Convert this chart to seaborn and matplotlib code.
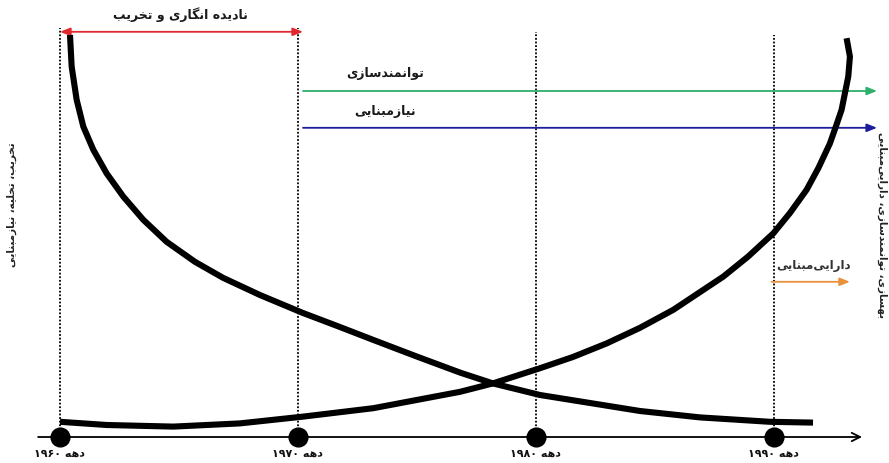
import re
import matplotlib
matplotlib.use("Agg")
import matplotlib.pyplot as plt
import seaborn as sns

# ---------------- data ----------------
decades = [1960, 1970, 1980, 1990]
decade_labels = ["دهه ۱۹۶۰", "دهه ۱۹۷۰", "دهه ۱۹۸۰", "دهه ۱۹۹۰"]

# falling curve
fall_x = [1960.42, 1960.49, 1960.70, 1960.98, 1961.40, 1961.96, 1962.66,
          1963.50, 1964.48, 1965.67, 1966.85, 1968.40, 1970.21, 1971.76,
          1973.15, 1975.00, 1976.81, 1978.19, 1980.17, 1982.27, 1984.37,
          1986.89, 1989.83, 1991.64]
fall_y = [100.5, 92.6, 84.3, 77.6, 71.8, 65.9, 60.1, 54.3, 48.8, 43.8, 39.8,
          35.5, 31.0, 27.5, 24.3, 20.1, 16.1, 13.4, 10.5, 8.5, 6.5, 4.9, 3.8,
          3.6]

# rising curve
rise_x = [1960.00, 1961.96, 1964.76, 1967.56, 1970.22, 1973.16, 1976.81,
          1978.19, 1980.17, 1981.55, 1982.97, 1984.37, 1985.77, 1987.87,
          1988.91, 1989.97, 1990.67, 1991.37, 1991.87, 1992.35, 1992.61,
          1992.84, 1993.12, 1993.19, 1993.05]
rise_y = [3.8, 3.0, 2.6, 3.4, 5.1, 7.2, 11.3, 13.4, 17.2, 20.0, 23.4, 27.3,
          31.8, 40.1, 45.1, 50.9, 56.0, 61.8, 67.3, 73.4, 77.8, 81.8, 90.1,
          95.1, 99.7]

vline_tops = [102.3, 102.3, 101.3, 100.5]

phase_labels = ["نادیده انگاری و تخریب", "توانمندسازی", "نیازمبنایی", "دارایی‌مبنایی"]
phase_start = [1960, 1970.21, 1970.21, 1989.9]
phase_end = [1970.21, 1994.33, 1994.33, 1993.19]
phase_level = [101.3, 86.5, 77.3, 38.8]
phase_colors = ["#e0282e", "#2eaf6a", "#1c1c9e", "#e8903c"]

left_label = "تخریب، تخلیه، نیازمبنایی"
right_label = "بهسازی، توانمندسازی، دارایی‌مبنایی"

# ---------------- minimal Persian shaping ----------------
FORMS = {  # isolated, final, initial, medial
    'ا': ('\uFE8D', '\uFE8E', None, None),
    'ب': ('\uFE8F', '\uFE90', '\uFE91', '\uFE92'),
    'ت': ('\uFE95', '\uFE96', '\uFE97', '\uFE98'),
    'خ': ('\uFEA5', '\uFEA6', '\uFEA7', '\uFEA8'),
    'د': ('\uFEA9', '\uFEAA', None, None),
    'ر': ('\uFEAD', '\uFEAE', None, None),
    'ز': ('\uFEAF', '\uFEB0', None, None),
    'س': ('\uFEB1', '\uFEB2', '\uFEB3', '\uFEB4'),
    'ش': ('\uFEB5', '\uFEB6', '\uFEB7', '\uFEB8'),
    'ک': ('\uFB8E', '\uFB8F', '\uFB90', '\uFB91'),
    'گ': ('\uFB92', '\uFB93', '\uFB94', '\uFB95'),
    'ل': ('\uFEDD', '\uFEDE', '\uFEDF', '\uFEE0'),
    'م': ('\uFEE1', '\uFEE2', '\uFEE3', '\uFEE4'),
    'ن': ('\uFEE5', '\uFEE6', '\uFEE7', '\uFEE8'),
    'ه': ('\uFEE9', '\uFEEA', '\uFEEB', '\uFEEC'),
    'و': ('\uFEED', '\uFEEE', None, None),
    'ی': ('\uFBFC', '\uFBFD', '\uFBFE', '\uFBFF'),
}


def shape(s):
    out = []
    n = len(s)
    for i, c in enumerate(s):
        if c == '\u200c':
            continue
        if c not in FORMS:
            out.append(c)
            continue
        prev = s[i - 1] if i > 0 else ''
        nxt = s[i + 1] if i + 1 < n else ''
        jp = prev in FORMS and FORMS[prev][2] is not None
        jn = nxt in FORMS and FORMS[c][2] is not None
        f = FORMS[c]
        if jp and jn:
            out.append(f[3])
        elif jp:
            out.append(f[1])
        elif jn:
            out.append(f[2])
        else:
            out.append(f[0])
    return ''.join(out)


def fa(s):
    shaped = shape(s)
    runs = re.findall(r'[0-9\u06F0-\u06F9]+|[^0-9\u06F0-\u06F9]+', shaped)
    vis = []
    for r in reversed(runs):
        if re.match(r'[0-9\u06F0-\u06F9]', r):
            vis.append(r)
        else:
            vis.append(r[::-1])
    return ''.join(vis)


# ---------------- figure ----------------
sns.set_theme(style="white")
plt.rcParams['font.family'] = ['DejaVu Sans']

fig = plt.figure(figsize=(8.89, 4.63), dpi=100)
ax = fig.add_axes([0, 0, 1, 1])
ax.set_xlim(1957.479, 1994.832)
ax.set_ylim(-6.5, 109.25)
ax.axis("off")

# dotted decade guides
ax.vlines(decades, 0, vline_tops, colors="black", linestyles=(0, (1, 1)), lw=1.3, zorder=1)

# main axis with arrow
ax.annotate("", xy=(1993.70, 0), xytext=(1959.08, 0),
            arrowprops=dict(arrowstyle="->,head_length=0.5,head_width=0.25",
                            color="black", lw=1.3, shrinkA=0, shrinkB=0), zorder=2)

# curves
for cx, cy in ((fall_x, fall_y), (rise_x, rise_y)):
    sns.lineplot(x=cx, y=cy, sort=False, estimator=None, color="black",
                 lw=4.4, ax=ax, solid_capstyle="butt", solid_joinstyle="round",
                 zorder=3)

# decade dots
sns.scatterplot(x=decades, y=[0] * len(decades), s=180, color="black",
                edgecolor="black", ax=ax, zorder=4)

# phase arrows
for i, (x0, x1, lv, col) in enumerate(zip(phase_start, phase_end,
                                           phase_level, phase_colors)):
    style = ("<|-|>,head_length=0.5,head_width=0.2" if i == 0
             else "-|>,head_length=0.5,head_width=0.2")
    ax.annotate("", xy=(x1, lv), xytext=(x0, lv),
                arrowprops=dict(arrowstyle=style, color=col, lw=1.3,
                                shrinkA=0, shrinkB=0), zorder=2)

label_pos = [(1965.08, 105.5), (1973.66, 91.0), (1973.66, 81.3), (1991.64, 43.0)]
label_size = [9, 9, 9, 8.5]
label_color = ["#1a1a1a", "#1a1a1a", "#1a1a1a", "#333333"]
for lab, (tx, ty), fs, tc in zip(phase_labels, label_pos, label_size, label_color):
    ax.text(tx, ty, fa(lab), ha="center", va="center", fontsize=fs,
            fontweight="bold", color=tc)

# decade labels
for d, lab in zip(decades, decade_labels):
    ax.text(d, -4.1, fa(lab), ha="center", va="center", fontsize=8,
            fontweight="bold", color="#111111")

# side labels
ax.text(1957.98, 58, fa(left_label), rotation=90, ha="center", va="center",
        fontsize=7.5, fontweight="bold", color="#222222")
ax.text(1994.55, 53, fa(right_label), rotation=270, ha="center", va="center",
        fontsize=7.5, fontweight="bold", color="#222222")

fig.savefig("out.png", dpi=100)
